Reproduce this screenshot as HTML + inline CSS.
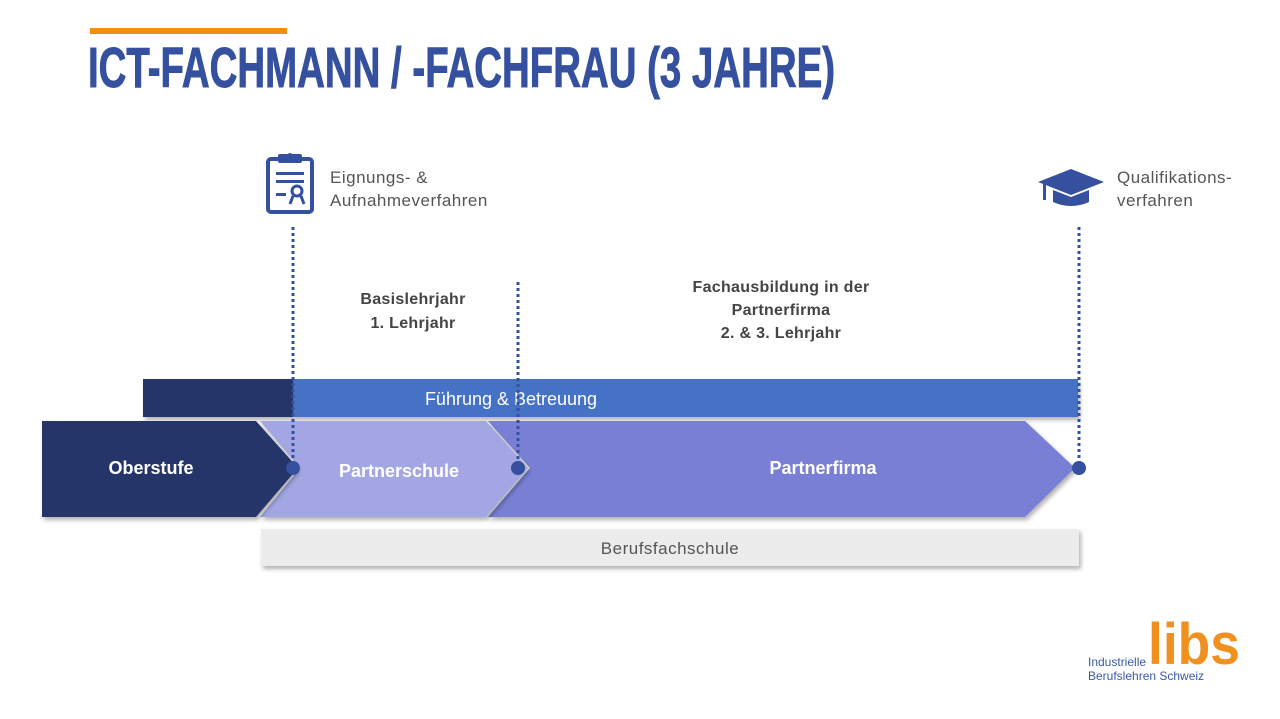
<!DOCTYPE html>
<html><head><meta charset="utf-8"><style>
html,body{margin:0;padding:0;background:#fff;}
svg{display:block;}
</style></head><body>
<svg width="1280" height="719" viewBox="0 0 1280 719" xmlns="http://www.w3.org/2000/svg" font-family="Liberation Sans, sans-serif">
<defs>
<filter id="sh" x="-5%" y="-10%" width="110%" height="130%"><feDropShadow dx="2" dy="3" stdDeviation="2" flood-color="#000" flood-opacity="0.3"/></filter>
</defs>
<rect x="90" y="28" width="197" height="6" fill="#ee8f10"/>
<text x="88" y="87" font-size="57" font-weight="bold" fill="#34509e" stroke="#34509e" stroke-width="1" textLength="747" lengthAdjust="spacingAndGlyphs">ICT-FACHMANN / -FACHFRAU (3 JAHRE)</text>

<!-- clipboard icon -->
<g fill="none" stroke="#34509e" stroke-width="4">
<rect x="268" y="159" width="44" height="53" rx="3"/>
</g>
<rect x="278" y="154" width="24" height="9" rx="2" fill="#34509e"/>
<circle cx="290" cy="156" r="3" fill="#34509e"/>
<rect x="276" y="172" width="28" height="3" fill="#34509e"/>
<rect x="276" y="180" width="28" height="3" fill="#34509e"/>
<rect x="276" y="193" width="10" height="3" fill="#34509e"/>
<circle cx="297" cy="191" r="5" fill="none" stroke="#34509e" stroke-width="3"/>
<path d="M293 196 L290 204 M301 196 L304 204" stroke="#34509e" stroke-width="3"/>
<text font-size="17" fill="#555" letter-spacing="0.5"><tspan x="330" y="183">Eignungs- &amp;</tspan><tspan x="330" y="206">Aufnahmeverfahren</tspan></text>

<!-- grad cap -->
<path d="M1038 182 L1071 169 L1104 182 L1071 195 Z" fill="#34509e"/>
<path d="M1053 190 L1053 202 Q1071 210 1089 202 L1089 190 L1071 197 Z" fill="#34509e"/>
<rect x="1043" y="184" width="3" height="16" fill="#34509e"/>
<text font-size="17" fill="#555" letter-spacing="0.5"><tspan x="1117" y="183">Qualifikations-</tspan><tspan x="1117" y="206">verfahren</tspan></text>

<text font-size="16" font-weight="bold" fill="#444" text-anchor="middle" letter-spacing="0.3"><tspan x="413" y="304">Basislehrjahr</tspan><tspan x="413" y="328">1. Lehrjahr</tspan></text>
<text font-size="16" font-weight="bold" fill="#444" text-anchor="middle" letter-spacing="0.3"><tspan x="781" y="292">Fachausbildung in der</tspan><tspan x="781" y="315">Partnerfirma</tspan><tspan x="781" y="338">2. &amp; 3. Lehrjahr</tspan></text>

<!-- bar -->
<rect x="143" y="379" width="150" height="38" fill="#253569" filter="url(#sh)"/>
<rect x="293" y="379" width="785" height="38" fill="#4472c4" filter="url(#sh)"/>
<text x="511" y="405" font-size="18" fill="#fff" text-anchor="middle">Führung &amp; Betreuung</text>

<!-- chevrons -->
<path d="M488 421 L1025 421 L1075 468 L1025 517 L488 517 L530 468 Z" fill="#797fd4" filter="url(#sh)"/>
<path d="M260 421 L486 421 L528 468 L486 517 L260 517 L300 468 Z" fill="#a3a6e3" filter="url(#sh)"/>
<path d="M42 421 L256 421 L298 468 L256 517 L42 517 Z" fill="#253569" filter="url(#sh)"/>
<text x="151" y="474" font-size="18" font-weight="bold" fill="#fff" text-anchor="middle">Oberstufe</text>
<text x="399" y="477" font-size="18" font-weight="bold" fill="#fff" text-anchor="middle">Partnerschule</text>
<text x="823" y="474" font-size="18" font-weight="bold" fill="#fff" text-anchor="middle">Partnerfirma</text>

<rect x="261" y="529" width="818" height="37" fill="#ececec" filter="url(#sh)"/>
<text x="670" y="554" font-size="17" fill="#555" text-anchor="middle" letter-spacing="0.5">Berufsfachschule</text>

<!-- dotted lines -->
<g stroke="#34509e" stroke-width="3" stroke-dasharray="3 3">
<line x1="293" y1="227" x2="293" y2="466"/>
<line x1="518" y1="282" x2="518" y2="466"/>
<line x1="1079" y1="227" x2="1079" y2="466"/>
</g>
<circle cx="293" cy="468" r="7" fill="#34509e"/>
<circle cx="518" cy="468" r="7" fill="#34509e"/>
<circle cx="1079" cy="468" r="7" fill="#34509e"/>

<!-- logo -->
<text x="1148" y="664" font-size="58" font-weight="bold" fill="#f0901e" textLength="92" lengthAdjust="spacingAndGlyphs">libs</text>
<text font-size="12" fill="#3a5aa8"><tspan x="1088" y="666">Industrielle</tspan><tspan x="1088" y="680">Berufslehren Schweiz</tspan></text>
</svg>
</body></html>
